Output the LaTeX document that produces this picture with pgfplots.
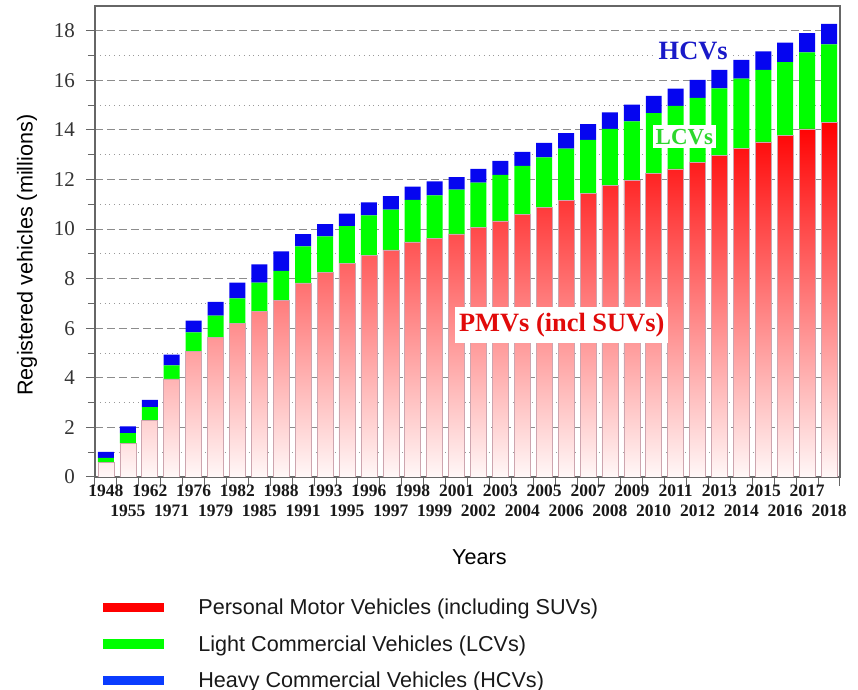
\documentclass[border=0pt]{standalone}
\usepackage{pgfplots}
\pgfplotsset{compat=1.18}
\usepackage{pgfplotstable}
\usepackage{fontspec}
\setmainfont{Liberation Sans}
\newfontfamily\serif{Liberation Serif}
\definecolor{pmv}{RGB}{255,0,0}
\definecolor{lcv}{RGB}{0,255,0}
\definecolor{hcv}{RGB}{5,5,240}
\definecolor{legblue}{RGB}{10,60,255}
\definecolor{barline}{RGB}{205,165,175}
\definecolor{pmvtext}{RGB}{225,10,10}
\definecolor{lcvtext}{RGB}{45,215,45}
\definecolor{hcvtext}{RGB}{25,25,200}

\pgfplotstableread{
idx pmv lcv hcv
0 0.59 0.18 0.24
1 1.36 0.41 0.27
2 2.28 0.54 0.29
3 3.96 0.54 0.44
4 5.07 0.76 0.48
5 5.64 0.87 0.55
6 6.20 1.01 0.63
7 6.69 1.15 0.74
8 7.13 1.18 0.79
9 7.83 1.47 0.50
10 8.24 1.47 0.49
11 8.61 1.51 0.50
12 8.94 1.61 0.53
13 9.16 1.63 0.54
14 9.48 1.70 0.53
15 9.64 1.72 0.57
16 9.81 1.78 0.51
17 10.06 1.81 0.56
18 10.33 1.86 0.56
19 10.59 1.96 0.57
20 10.86 2.03 0.59
21 11.16 2.09 0.62
22 11.44 2.16 0.63
23 11.76 2.28 0.67
24 11.96 2.39 0.67
25 12.24 2.44 0.69
26 12.43 2.54 0.70
27 12.69 2.60 0.73
28 12.97 2.71 0.74
29 13.26 2.81 0.76
30 13.52 2.90 0.75
31 13.77 2.97 0.78
32 14.04 3.09 0.78
33 14.29 3.16 0.83
}\datatable

\begin{document}
\begin{tikzpicture}
\begin{axis}[
  scale only axis,
  width=372.5pt, height=235.5pt,
  xmin=-0.5, xmax=33.5, ymin=0, ymax=19,
  ybar stacked, bar width=0.73,
  /pgf/number format/assume math mode=true,
  ytick={0,2,...,18}, minor ytick={1,3,...,17},
  ymajorgrids, yminorgrids,
  major grid style={dash pattern=on 4pt off 2pt, black!45, line width=0.5pt},
  minor grid style={dotted, black!40, line width=0.4pt},
  xtick={-0.5,0.5,...,33.5},
  xticklabels={},
  extra x ticks={0,1,...,33},
  extra x tick labels={{\strut 1948},{\strut\\1955},{\strut 1962},{\strut\\1971},{\strut 1976},{\strut\\1979},{\strut 1982},{\strut\\1985},{\strut 1988},{\strut\\1991},{\strut 1993},{\strut\\1995},{\strut 1996},{\strut\\1997},{\strut 1998},{\strut\\1999},{\strut 2001},{\strut\\2002},{\strut 2003},{\strut\\2004},{\strut 2005},{\strut\\2006},{\strut 2007},{\strut\\2008},{\strut 2009},{\strut\\2010},{\strut 2011},{\strut\\2012},{\strut 2013},{\strut\\2014},{\strut 2015},{\strut\\2016},{\strut 2017},{\strut\\2018}},
  extra x tick style={major tick length=0pt, xticklabel style={align=center, font=\serif\bfseries\fontsize{8.75}{10.2}\selectfont, text=black!90, yshift=1pt}},
  tick align=outside,
  ytick pos=left, xtick pos=bottom,
  major tick length=4.5pt, minor tick length=3.5pt,
  tick style={black!60, line width=0.5pt},
  axis line style={black!60, line width=0.6pt},
  yticklabel style={font=\serif\fontsize{10.5}{12}\selectfont, text=black!80, xshift=-2pt},
  ylabel={Registered vehicles (millions)},
  xlabel={Years},
  label style={font=\fontsize{10.8}{13}\selectfont},
  ylabel style={at={(axis description cs:-0.0913,0.471)}, anchor=center},
  xlabel style={at={(axis description cs:0.516,-0.17)}, anchor=center},
  legend style={at={(axis description cs:0.0107,-0.2586)}, anchor=north west,
    draw=none, fill=none, inner sep=0pt, outer sep=0pt,
    nodes={inner sep=0pt, text height=8pt, text depth=2.5pt, anchor=base west},
    row sep=7.75pt, font=\fontsize{10.8}{13}\selectfont, text=black!90},
  legend cell align=left,
]
\addlegendimage{legend image code/.code={\fill[pmv] (0pt,1.6pt) rectangle (30pt,5.9pt); \path[draw=none,fill=none] (0pt,0pt) -- (47.5pt,0pt);}}
\addlegendentry{Personal Motor Vehicles (including SUVs)}
\addlegendimage{legend image code/.code={\fill[lcv] (0pt,1.6pt) rectangle (30pt,5.9pt); \path[draw=none,fill=none] (0pt,0pt) -- (47.5pt,0pt);}}
\addlegendentry{Light Commercial Vehicles (LCVs)}
\addlegendimage{legend image code/.code={\fill[legblue] (0pt,1.6pt) rectangle (30pt,5.9pt); \path[draw=none,fill=none] (0pt,0pt) -- (47.5pt,0pt);}}
\addlegendentry{Heavy Commercial Vehicles (HCVs)}

\addplot[forget plot, draw=barline, line width=0.3pt, top color=pmv, middle color=red!72!white, bottom color=red!3!white] table[x=idx, y=pmv] {\datatable};
\addplot[forget plot, draw=none, fill=lcv] table[x=idx, y=lcv] {\datatable};
\addplot[forget plot, draw=none, fill=hcv] table[x=idx, y=hcv] {\datatable};

\coordinate (pmvlab) at (axis cs:20.8,6.12);
\coordinate (lcvlab) at (axis cs:26.4,13.73);
\coordinate (hcvlab) at (axis cs:26.8,17.2);
\end{axis}
\node[fill=white, inner xsep=2pt, inner ysep=3pt, text=pmvtext, font=\serif\bfseries\fontsize{13.2}{15}\selectfont] at (pmvlab) {PMVs (incl SUVs)};
\node[fill=white, inner xsep=1.5pt, inner ysep=2pt, text=lcvtext, font=\serif\bfseries\fontsize{11.5}{13}\selectfont] at (lcvlab) {LCVs};
\node[fill=white, inner xsep=1pt, inner ysep=1pt, text=hcvtext, font=\serif\bfseries\fontsize{13.2}{15}\selectfont] at (hcvlab) {HCVs};
\pgfresetboundingbox
\path (current axis.south west) ++(-47.5pt,-106.5pt) rectangle ++(429pt,345pt);
\end{tikzpicture}
\end{document}
